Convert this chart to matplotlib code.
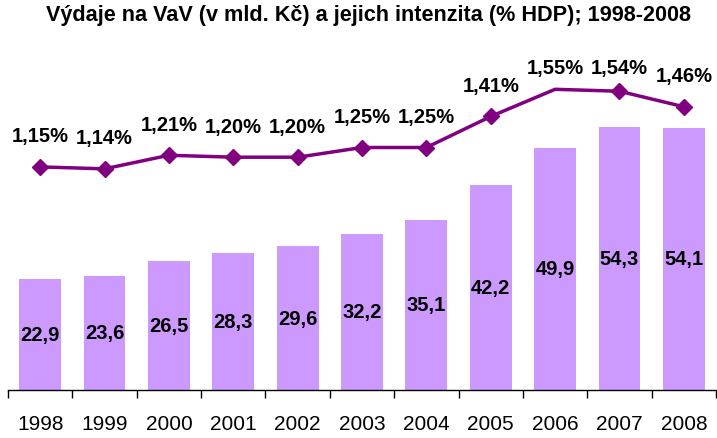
import numpy as np
import matplotlib
matplotlib.use('Agg')
from matplotlib import pyplot as plt

plt.rcParams['font.family'] = ['Liberation Sans', 'DejaVu Sans']

years = ['1998', '1999', '2000', '2001', '2002', '2003', '2004', '2005', '2006', '2007', '2008']
spending = [22.9, 23.6, 26.5, 28.3, 29.6, 32.2, 35.1, 42.2, 49.9, 54.3, 54.1]
intensity = [1.15, 1.14, 1.21, 1.20, 1.20, 1.25, 1.25, 1.41, 1.55, 1.54, 1.46]

W, H = 717, 439
fig = plt.figure(figsize=(W/100, H/100), dpi=100)
ax = fig.add_axes([8/W, (H-391)/H, 708/W, 388/H])
ax2 = ax.twinx()

x = np.arange(len(years))

# bars - expenditure
ax.bar(x, spending, width=0.65, color='#CC99FF', zorder=2)
for xi, v in zip(x, spending):
    ax.text(xi, v/2, f'{v:.1f}'.replace('.', ','), ha='center', va='center',
            fontsize=14.5, fontweight='bold', color='black')
ax.set_ylim(0, 80)
ax.set_xlim(-0.5, len(years)-0.5)

# line - intensity (% GDP), the 2006 point has no marker in the original
marks = [i for i in range(len(years)) if years[i] != '2006']
ax2.plot(x, intensity, color='#800080', lw=2.5, marker='D', ms=8,
         markevery=marks, zorder=3)
for xi, v in zip(x, intensity):
    ly = min(v + 0.16, 1.66)
    ax2.text(xi, ly, f'{v:.2f}'.replace('.', ',') + '%', ha='center', va='center',
             fontsize=14.5, fontweight='bold', color='black', zorder=4)
ax2.set_ylim(0, 2)

for a in (ax, ax2):
    for s in ('top', 'left', 'right'):
        a.spines[s].set_visible(False)
    a.set_yticks([])
ax2.spines['bottom'].set_visible(False)
ax.spines['bottom'].set_color('black')
ax.spines['bottom'].set_linewidth(1)

ax.set_xticks(x)
ax.set_xticklabels(years, fontsize=15)
ax.tick_params(axis='x', which='major', length=0, pad=17)
ax.set_xticks(np.arange(-0.5, len(years), 1), minor=True)
ax.tick_params(axis='x', which='minor', length=6, color='black', width=1)

fig.text(368/W, 1 - 16/H, 'Výdaje na VaV (v mld. Kč) a jejich intenzita (% HDP); 1998-2008',
         ha='center', va='center', fontsize=15.6, fontweight='bold')

fig.savefig('out.png', dpi=100)
